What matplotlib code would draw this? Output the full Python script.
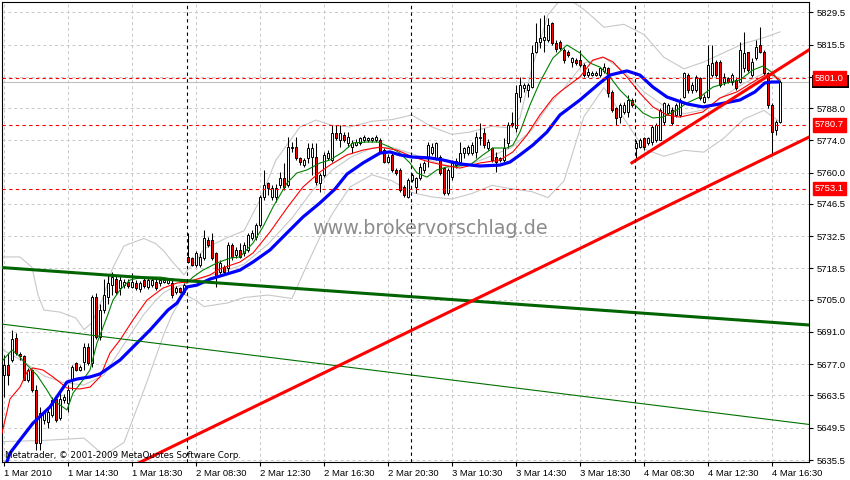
import matplotlib
matplotlib.use("Agg")
import matplotlib.pyplot as plt
import matplotlib.transforms as mtransforms
from matplotlib.patches import Rectangle

# DAX M15 candles, 1 Mar 2010 10:30 .. 4 Mar 2010 17:00 (bar index = position)
opens = [
    5672.3, 5676.7, 5678.8, 5688.4, 5681.5, 5680.5, 5670.2, 5674.5, 5665.8, 5642.9,
    5652.8, 5652.0, 5655.0, 5662.0, 5653.5, 5661.5, 5660.2, 5670.2, 5677.5, 5674.5,
    5678.0, 5684.5, 5677.5, 5706.0, 5689.0, 5700.5, 5706.0, 5711.5, 5714.0, 5709.9,
    5711.3, 5712.8, 5710.6, 5712.4, 5709.5, 5713.5, 5710.6, 5711.3, 5712.8, 5712.1,
    5712.8, 5712.4, 5712.1, 5708.5, 5709.9, 5708.5, 5723.6, 5722.9, 5720.0, 5720.0,
    5722.9, 5730.8, 5730.8, 5725.1, 5717.1, 5719.3, 5718.5, 5728.7, 5724.3, 5726.5,
    5725.0, 5726.5, 5731.6, 5732.3, 5737.3, 5749.6, 5755.4, 5749.6, 5749.6, 5754.7,
    5757.6, 5754.7, 5770.6, 5771.3, 5766.2, 5763.3, 5766.2, 5766.9, 5766.9, 5755.4,
    5759.0, 5766.2, 5765.5, 5777.1, 5774.2, 5776.3, 5772.7, 5771.3, 5772.0, 5772.7,
    5774.2, 5774.2, 5774.0, 5774.2, 5774.2, 5769.8, 5764.8, 5767.7, 5761.2, 5761.2,
    5753.9, 5749.6, 5756.8, 5753.9, 5757.6, 5761.2, 5766.2, 5768.4, 5766.2, 5766.9,
    5761.9, 5751.1, 5758.0, 5763.5, 5764.8, 5768.4, 5768.4, 5768.4, 5769.1, 5774.9,
    5777.1, 5770.6, 5770.6, 5766.9, 5765.5, 5765.5, 5772.7, 5781.4, 5779.2, 5793.0,
    5796.6, 5795.8, 5797.3, 5812.4, 5816.8, 5817.5, 5817.5, 5824.7, 5816.0, 5816.8,
    5813.2, 5812.4, 5808.1, 5808.8, 5808.8, 5806.7, 5802.3, 5802.3, 5802.3, 5802.3,
    5804.0, 5805.2, 5795.1, 5787.9, 5784.3, 5786.4, 5786.4, 5791.5, 5770.6, 5771.3,
    5774.9, 5772.7, 5773.4, 5774.2, 5774.2, 5782.1, 5785.7, 5787.2, 5785.0, 5785.0,
    5792.9, 5802.3, 5795.8, 5795.8, 5800.9, 5790.8, 5792.9, 5802.3, 5808.1, 5808.1,
    5799.5, 5800.9, 5799.5, 5800.2, 5799.5, 5805.2, 5812.4, 5802.3, 5809.6, 5815.3,
    5812.4, 5803.1, 5789.3, 5778.5, 5782.1]
highs = [
    5681.0, 5681.9, 5691.8, 5690.5, 5682.5, 5681.0, 5675.5, 5675.0, 5668.0, 5658.5,
    5657.0, 5658.5, 5663.0, 5663.0, 5665.0, 5664.0, 5668.0, 5676.7, 5678.0, 5676.5,
    5686.2, 5686.2, 5707.0, 5708.0, 5703.0, 5714.0, 5716.0, 5717.1, 5715.5, 5715.8,
    5714.0, 5714.0, 5716.4, 5713.5, 5713.0, 5714.5, 5714.5, 5714.3, 5713.8, 5714.5,
    5714.3, 5714.3, 5713.3, 5711.0, 5710.6, 5712.1, 5733.7, 5723.6, 5726.0, 5725.0,
    5735.1, 5732.0, 5733.7, 5725.8, 5722.0, 5720.0, 5730.0, 5729.5, 5728.0, 5729.4,
    5730.0, 5733.7, 5735.0, 5738.0, 5750.3, 5761.2, 5756.1, 5754.7, 5755.0, 5760.4,
    5764.0, 5775.6, 5773.5, 5775.6, 5767.0, 5766.5, 5772.7, 5772.7, 5772.7, 5759.7,
    5769.0, 5770.0, 5780.7, 5780.7, 5780.7, 5777.5, 5777.8, 5774.2, 5774.5, 5775.6,
    5776.5, 5775.6, 5775.6, 5776.3, 5774.9, 5770.5, 5768.0, 5768.4, 5762.0, 5761.9,
    5754.7, 5757.6, 5760.0, 5758.3, 5764.1, 5765.0, 5773.5, 5772.7, 5773.5, 5767.7,
    5762.5, 5762.0, 5765.5, 5766.5, 5773.4, 5771.3, 5772.0, 5773.4, 5777.8, 5781.4,
    5779.2, 5774.5, 5771.3, 5769.1, 5767.0, 5774.9, 5782.1, 5786.4, 5798.0, 5801.6,
    5798.7, 5798.7, 5815.3, 5824.7, 5826.9, 5828.3, 5826.9, 5825.4, 5817.5, 5817.5,
    5813.9, 5813.0, 5810.3, 5809.5, 5813.2, 5807.4, 5805.2, 5804.0, 5804.0, 5805.9,
    5807.4, 5805.9, 5796.0, 5788.6, 5790.1, 5790.5, 5793.6, 5792.2, 5774.2, 5775.0,
    5775.6, 5775.6, 5780.7, 5781.4, 5787.9, 5790.8, 5790.0, 5788.6, 5790.0, 5792.2,
    5803.8, 5803.1, 5799.5, 5802.3, 5801.6, 5794.0, 5815.3, 5815.3, 5808.8, 5808.8,
    5803.1, 5801.6, 5803.1, 5801.6, 5816.8, 5821.1, 5812.4, 5809.6, 5817.5, 5823.3,
    5813.2, 5803.8, 5790.0, 5782.8, 5800.2]
lows = [
    5662.8, 5668.0, 5678.0, 5681.0, 5679.0, 5670.0, 5669.5, 5665.0, 5639.8, 5639.8,
    5651.0, 5649.4, 5654.0, 5652.0, 5652.8, 5660.0, 5656.3, 5665.8, 5674.0, 5674.0,
    5674.5, 5676.7, 5676.0, 5688.0, 5687.5, 5699.0, 5703.0, 5707.0, 5707.5, 5707.0,
    5710.0, 5710.0, 5709.9, 5709.0, 5708.5, 5710.0, 5709.8, 5710.5, 5709.0, 5711.0,
    5712.0, 5711.6, 5705.5, 5707.5, 5707.8, 5707.5, 5720.7, 5719.5, 5719.3, 5719.0,
    5722.2, 5728.0, 5722.2, 5710.6, 5716.0, 5716.0, 5717.0, 5722.0, 5723.0, 5722.9,
    5724.0, 5725.8, 5731.0, 5730.8, 5736.6, 5748.2, 5750.3, 5748.2, 5747.5, 5753.2,
    5752.5, 5754.0, 5769.1, 5765.5, 5763.3, 5762.5, 5764.0, 5759.0, 5754.7, 5751.8,
    5758.0, 5765.5, 5764.8, 5774.2, 5771.3, 5773.5, 5771.3, 5768.4, 5771.5, 5772.0,
    5773.5, 5773.5, 5773.2, 5773.5, 5768.4, 5764.1, 5764.0, 5760.4, 5759.0, 5751.8,
    5749.6, 5748.9, 5756.0, 5751.1, 5756.8, 5760.0, 5762.6, 5767.5, 5765.5, 5759.0,
    5750.3, 5750.3, 5757.0, 5762.0, 5763.3, 5766.2, 5767.5, 5767.7, 5766.2, 5772.0,
    5770.6, 5770.0, 5764.8, 5760.5, 5764.5, 5764.8, 5770.6, 5780.0, 5777.8, 5790.8,
    5795.1, 5793.0, 5796.6, 5811.7, 5813.9, 5812.4, 5816.8, 5815.3, 5812.5, 5813.2,
    5807.4, 5810.0, 5805.9, 5806.7, 5805.9, 5801.6, 5801.6, 5801.8, 5801.8, 5801.6,
    5803.0, 5792.9, 5786.4, 5780.7, 5781.4, 5785.5, 5784.3, 5788.6, 5766.2, 5770.5,
    5769.8, 5772.0, 5772.0, 5773.4, 5774.2, 5780.7, 5785.0, 5780.7, 5784.0, 5784.3,
    5792.2, 5794.4, 5794.4, 5795.0, 5791.5, 5790.0, 5792.2, 5801.6, 5801.6, 5797.3,
    5798.0, 5798.7, 5798.0, 5795.8, 5798.7, 5803.8, 5803.8, 5801.6, 5808.8, 5811.7,
    5802.3, 5787.9, 5767.7, 5776.3, 5781.4]
closes = [
    5676.7, 5672.3, 5687.9, 5681.9, 5680.5, 5670.2, 5674.5, 5665.8, 5642.9, 5655.9,
    5655.9, 5656.3, 5661.5, 5652.8, 5662.0, 5662.8, 5665.8, 5675.8, 5674.5, 5675.8,
    5684.5, 5677.5, 5706.0, 5689.0, 5700.5, 5707.0, 5712.0, 5715.0, 5708.5, 5713.5,
    5712.8, 5710.8, 5712.8, 5709.9, 5712.1, 5710.8, 5713.5, 5713.5, 5709.9, 5713.5,
    5713.5, 5713.5, 5707.0, 5710.0, 5708.5, 5711.3, 5721.4, 5720.0, 5725.1, 5723.6,
    5731.6, 5728.7, 5722.9, 5714.9, 5720.7, 5717.1, 5728.5, 5723.6, 5726.5, 5723.6,
    5728.7, 5733.0, 5733.7, 5737.3, 5749.6, 5754.7, 5753.2, 5753.2, 5753.2, 5757.6,
    5754.0, 5771.3, 5771.3, 5766.2, 5764.8, 5765.5, 5770.6, 5770.6, 5756.1, 5759.0,
    5767.7, 5768.4, 5777.1, 5774.9, 5777.1, 5774.2, 5775.6, 5772.7, 5773.5, 5774.9,
    5775.6, 5774.9, 5774.9, 5775.6, 5769.1, 5764.8, 5766.9, 5761.2, 5759.7, 5752.5,
    5750.3, 5756.8, 5759.0, 5757.6, 5762.6, 5764.1, 5772.0, 5771.3, 5772.7, 5759.7,
    5751.1, 5761.2, 5764.0, 5765.0, 5768.4, 5770.6, 5771.3, 5772.0, 5775.6, 5775.6,
    5772.0, 5773.4, 5765.5, 5764.8, 5766.2, 5770.6, 5780.7, 5780.7, 5794.4, 5798.0,
    5798.0, 5798.0, 5811.7, 5816.8, 5818.2, 5819.0, 5824.0, 5816.0, 5813.5, 5813.9,
    5808.8, 5811.0, 5809.6, 5807.4, 5806.7, 5802.3, 5803.8, 5803.3, 5803.3, 5805.2,
    5805.9, 5794.4, 5787.2, 5783.6, 5789.3, 5789.3, 5791.5, 5789.3, 5772.7, 5774.2,
    5771.3, 5774.9, 5779.9, 5780.7, 5787.2, 5790.0, 5789.3, 5781.4, 5789.3, 5791.5,
    5803.1, 5795.8, 5798.0, 5801.6, 5792.2, 5792.9, 5806.7, 5807.4, 5802.3, 5798.0,
    5801.6, 5799.5, 5802.3, 5796.6, 5813.2, 5811.7, 5804.5, 5808.1, 5814.6, 5812.4,
    5803.1, 5789.3, 5777.8, 5782.1, 5799.5]

# indicator lines (bar position, price)
blue_x = [0, 1.5, 4, 7.25, 11.5, 15.75, 18.25, 21.5, 24, 26.5,
          29, 36.5, 41, 43.25, 45.75, 48.25, 51.5, 56.5, 59, 62.25,
          66.5, 70.75, 74.75, 79, 82.75, 85.75, 89.75, 94, 96.5, 99,
          102, 106.5, 109.75, 114, 119, 124, 126.5, 129, 132.25, 135.75,
          139, 144, 149, 151.5, 155.75, 159, 162.25, 165.75, 170.75, 174.75,
          179, 184, 187.75, 190.25, 192, 194]
blue_v = [5631.2, 5638.5, 5644.2, 5651.5, 5658.5, 5669.3, 5670.6, 5671.5, 5672.8, 5675.8,
          5678.8, 5691.8, 5700.5, 5703.5, 5710.5, 5711.3, 5713.9, 5716.5, 5717.8, 5721.3,
          5726.5, 5733.9, 5740.8, 5746.9, 5752.9, 5759.4, 5764.2, 5768.5, 5769.0, 5767.7,
          5766.8, 5766.4, 5765.5, 5763.8, 5762.9, 5763.3, 5764.6, 5767.7, 5772.0, 5777.6,
          5785.0, 5791.5, 5798.9, 5802.3, 5804.1, 5802.3, 5797.1, 5792.8, 5789.8, 5788.5,
          5789.8, 5791.5, 5795.0, 5798.9, 5799.3, 5799.3]
red_x = [-0.5, 1.5, 4, 5.75, 7.25, 9.75, 12.25, 15.75, 19, 21.5,
         24, 26.5, 29, 32.25, 35.75, 39.75, 43.25, 45.75, 48.25, 51.5,
         54, 59, 62.25, 66.5, 70.75, 74.75, 79, 81.5, 85.75, 89.75,
         94, 98.25, 102.25, 106.5, 109.75, 114, 119, 124, 127.25, 130.75,
         134, 137.25, 139, 144, 147.25, 149.75, 152.25, 155.75, 159, 162.25,
         165.75, 169, 174.75, 179, 183.25, 187.25, 190.25, 192.25, 194]
red_v = [5647.2, 5662.0, 5667.1, 5673.6, 5675.4, 5674.5, 5671.5, 5666.7, 5666.3, 5667.1,
         5671.5, 5681.9, 5687.5, 5696.2, 5704.8, 5710.0, 5712.2, 5712.6, 5713.9, 5715.7,
         5718.3, 5721.3, 5725.2, 5734.3, 5744.7, 5753.8, 5760.3, 5763.3, 5767.7, 5769.8,
         5771.1, 5769.8, 5766.8, 5764.6, 5763.3, 5762.0, 5764.2, 5765.5, 5769.0, 5776.3,
         5785.0, 5792.4, 5795.0, 5801.5, 5808.8, 5810.1, 5808.0, 5801.5, 5794.5, 5788.5,
         5785.0, 5784.1, 5786.3, 5792.4, 5795.0, 5799.3, 5802.3, 5802.3, 5800.2]
green_x = [-0.25, 2, 3.5, 5.75, 8.25, 10.75, 12.25, 15.75, 17.25, 19.75,
           21.5, 23.25, 25.75, 27.25, 29, 31.5, 34.75, 39, 43.25, 45.75,
           47.25, 49.75, 53.25, 56.5, 59, 62.25, 64.75, 67.25, 70.75, 73.25,
           75.75, 79, 81.5, 84.75, 87.25, 90.75, 93.5, 96.5, 99, 101.5,
           103.25, 105.75, 108.25, 110.75, 116.5, 119.75, 122.25, 125.75, 127.25, 129,
           131.5, 134, 137.25, 140.75, 144, 146.5, 149, 151.5, 154, 157.25,
           159.75, 162.25, 164.75, 168.25, 170.75, 174, 177.25, 180.75, 184, 187.25,
           189.75, 192.25, 194]
green_v = [5678.8, 5683.2, 5681.0, 5676.7, 5672.3, 5665.8, 5661.5, 5657.2, 5664.5, 5670.2,
           5674.5, 5686.2, 5697.5, 5704.8, 5709.2, 5713.5, 5714.8, 5714.8, 5713.5, 5712.2,
           5714.8, 5717.8, 5720.9, 5723.0, 5723.5, 5729.5, 5736.5, 5745.1, 5755.5, 5759.9,
           5761.2, 5764.2, 5765.5, 5769.0, 5772.9, 5773.3, 5773.3, 5771.1, 5768.5, 5764.2,
           5759.9, 5758.1, 5761.2, 5762.5, 5763.3, 5767.7, 5770.7, 5770.7, 5772.0, 5777.6,
           5789.3, 5799.3, 5809.7, 5815.3, 5811.9, 5807.5, 5805.8, 5801.5, 5795.8, 5790.2,
           5785.9, 5783.7, 5784.1, 5787.2, 5790.2, 5792.8, 5797.1, 5798.9, 5800.2, 5804.5,
           5806.2, 5803.2, 5799.0]
bb_up_x = [-0.5, 4, 7, 8.5, 10, 14, 18, 20, 22, 25,
           27, 30, 35, 38, 40, 42, 45, 46, 48, 50,
           56, 60, 64, 68, 72, 74, 78, 82, 86.5, 92,
           97, 102, 107, 112, 116.5, 122, 126.5, 129, 132, 134,
           136, 140, 145, 148, 150, 155, 160, 165, 170, 175,
           180, 185, 190, 194]
bb_up_v = [5723.5, 5723.5, 5719.0, 5707.0, 5700.5, 5699.6, 5697.0, 5692.0, 5695.0, 5707.0,
           5718.0, 5728.3, 5731.5, 5729.2, 5726.0, 5721.6, 5715.8, 5718.0, 5721.7, 5727.0,
           5732.0, 5734.8, 5748.2, 5765.5, 5775.0, 5779.8, 5782.8, 5780.5, 5779.8, 5782.3,
           5783.0, 5785.0, 5779.8, 5776.6, 5777.6, 5780.1, 5779.4, 5783.7, 5805.4, 5816.6,
           5828.4, 5836.8, 5830.7, 5826.2, 5823.0, 5824.3, 5819.9, 5810.0, 5805.0, 5808.0,
           5812.0, 5816.0, 5818.5, 5821.0]
bb_mid_x = [-0.5, 5, 10, 15, 20, 25, 30, 35, 38, 40,
            42, 45, 48, 50, 56, 60, 66, 72, 77, 82,
            87, 92, 97, 102, 107, 112, 117, 122, 127, 132,
            136, 140, 145, 150, 155, 160, 165, 170, 175, 180,
            185, 190, 194]
bb_mid_v = [5683.5, 5678.0, 5672.0, 5669.0, 5668.0, 5672.3, 5685.7, 5698.7, 5704.8, 5708.1,
            5710.0, 5711.6, 5713.2, 5714.6, 5717.8, 5720.4, 5729.0, 5740.3, 5752.0, 5761.1,
            5767.0, 5770.7, 5771.0, 5768.2, 5765.0, 5762.6, 5764.0, 5767.3, 5771.0, 5778.6,
            5788.8, 5796.6, 5807.5, 5809.9, 5803.9, 5795.1, 5788.9, 5785.5, 5787.3, 5793.2,
            5798.7, 5803.1, 5801.2]
bb_lo_x = [-0.5, 10, 20, 25, 30, 35, 38, 40, 42, 45,
           48, 50, 56, 60, 66, 72, 76, 79, 82, 86.5,
           92, 97, 102, 107, 112, 117, 122, 127, 132, 136,
           140, 145, 150, 155, 160, 165, 170, 175, 180, 185,
           190, 194]
bb_lo_v = [5643.5, 5644.0, 5645.0, 5637.5, 5643.1, 5665.9, 5680.4, 5690.2, 5698.4, 5707.4,
           5704.6, 5702.0, 5703.6, 5705.9, 5707.0, 5705.5, 5721.0, 5732.0, 5742.0, 5753.8,
           5759.1, 5756.5, 5751.4, 5749.5, 5748.6, 5751.0, 5754.5, 5753.0, 5751.8, 5749.2,
           5756.4, 5784.3, 5796.9, 5783.5, 5770.3, 5767.1, 5769.7, 5768.9, 5775.0, 5783.2,
           5787.0, 5782.0]

# drawn objects: trend lines (bar, price) pairs, horizontal levels, bid
green_thick_line = ([-0.5, 201.4], [5718.9, 5694.0])
green_thin_line = ([-0.5, 201.4], [5694.4, 5650.9])
red_long_line = ([24, 201.25], [5626.1, 5775.4])
red_short_line = ([157, 201.25], [5764.3, 5813.2])
levels = [5801.0, 5780.7, 5753.1]
bid = 5799.5
day_starts = [46, 102, 158]

ytick_vals = [5829.5, 5815.5, 5801.5, 5788.0, 5774.0, 5760.0, 5746.5, 5732.5,
              5718.5, 5705.0, 5691.0, 5677.0, 5663.5, 5649.5, 5635.5]
xtick_bars = [0, 16, 32, 48, 64, 80, 96, 112, 128, 144, 160, 176, 192]
xtick_labels = ["1 Mar 2010", "1 Mar 14:30", "1 Mar 18:30", "2 Mar 08:30",
                "2 Mar 12:30", "2 Mar 16:30", "2 Mar 20:30", "3 Mar 10:30",
                "3 Mar 14:30", "3 Mar 18:30", "4 Mar 08:30", "4 Mar 12:30",
                "4 Mar 16:30"]

fig = plt.figure(figsize=(8.5, 4.8), dpi=100)
ax = fig.add_axes([2 / 850, 18 / 480, 807.5 / 850, 460 / 480])
ax.set_xlim(-0.5, 201.4)
ax.set_ylim(5634.65, 5833.96)
ax.set_axisbelow(True)

# grid
ax.set_yticks(ytick_vals)
ax.set_yticklabels(["" if v == 5801.5 else "%.1f" % v for v in ytick_vals])
ax.set_xticks(xtick_bars)
ax.set_xticklabels(xtick_labels, ha="left")
ax.grid(True, color="#c8c8c8", linestyle=(0, (3, 3)), linewidth=0.7)
ax.yaxis.tick_right()
ax.tick_params(axis="both", direction="out", length=3, width=0.8, pad=2,
               labelsize=6.8, labelfontfamily="Liberation Sans")
for lab in ax.get_xticklabels():
    lab.set_horizontalalignment("left")
for s in ax.spines.values():
    s.set_linewidth(0.8)

# bid line
ax.axhline(bid, color="#c0c0c0", lw=0.8, zorder=1)

# bollinger bands
for bx, bv in ((bb_up_x, bb_up_v), (bb_mid_x, bb_mid_v), (bb_lo_x, bb_lo_v)):
    ax.plot(bx, bv, color="#c8c8c8", lw=0.8, zorder=2)

# candles
for i in range(len(closes)):
    o, h, l, c = opens[i], highs[i], lows[i], closes[i]
    ax.vlines(i, l, h, color="black", lw=0.75, zorder=3)
    face = "white" if c >= o else "#ff0000"
    ax.add_patch(Rectangle((i - 0.28, min(o, c)), 0.56, max(abs(c - o), 0.3),
                           facecolor=face, edgecolor="black", lw=0.7, zorder=4))

# moving averages
ax.plot(green_x, green_v, color="#008000", lw=0.8, zorder=5)
ax.plot(red_x, red_v, color="#ff0000", lw=0.8, zorder=5)
ax.plot(blue_x, blue_v, color="#0000ff", lw=2.3, zorder=6, solid_capstyle="butt")

# objects
ax.plot(*green_thick_line, color="#006400", lw=2.2, zorder=7)
ax.plot(*green_thin_line, color="#007000", lw=0.8, zorder=7)
ax.plot(*red_long_line, color="#ff0000", lw=2.2, zorder=7)
ax.plot(*red_short_line, color="#ff0000", lw=2.2, zorder=7)
for lv in levels:
    ax.axhline(lv, color="#ff0000", lw=0.8, linestyle=(0, (3, 3)), zorder=7)
for d in day_starts:
    ax.axvline(d - 0.3, color="black", lw=0.8, linestyle=(0, (3, 3)), zorder=7)

# price labels on the right scale
tr = mtransforms.blended_transform_factory(ax.transAxes, ax.transData)
lx = (815 - 2) / 807.5
# bid marker, mostly hidden behind the 5801.0 label
ax.add_patch(Rectangle((lx - 3 / 807.5, bid - 3.0), 37 / 807.5, 6.0, transform=tr,
                       facecolor="black", edgecolor="none", zorder=19, clip_on=False))
for lv in levels:
    ax.text(lx, lv, "%.1f" % lv, transform=tr, color="white", fontsize=6.8,
            family="Liberation Sans", va="center", ha="left", zorder=21,
            bbox=dict(boxstyle="square,pad=0.25", fc="#ff0000", ec="#ff0000"))

fig.text(430 / 850, 1 - 229 / 480, "www.brokervorschlag.de", color="#8c8c8c",
         fontsize=13.8, family="DejaVu Sans", ha="center", va="center")
fig.text(5 / 850, 1 - 455 / 480, "Metatrader, \u00a9 2001-2009 MetaQuotes Software Corp.",
         color="black", fontsize=6.3, family="DejaVu Sans", ha="left", va="center")

fig.savefig("out.png", dpi=100)
